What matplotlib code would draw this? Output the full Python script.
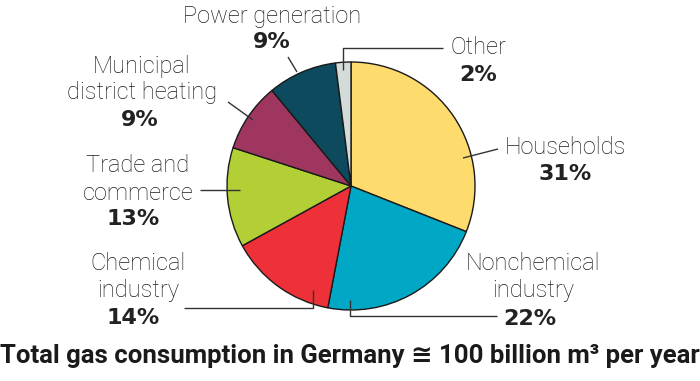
import matplotlib
matplotlib.use("Agg")
import matplotlib.pyplot as plt

categories = ["Households", "Nonchemical industry", "Chemical industry",
              "Trade and commerce", "Municipal district heating",
              "Power generation", "Other"]
values = [31, 22, 14, 13, 9, 9, 2]
colors = ["#FDDB6D", "#00A8C6", "#EE3139", "#B2CF36", "#9F3660", "#0D4A5D", "#D4DCDA"]

W, H = 700, 381
fig = plt.figure(figsize=(W / 100, H / 100), dpi=100)
ax = fig.add_axes([0, 0, 1, 1])

def Y(py):
    return H - py

ax.pie(values, colors=colors, startangle=90, counterclock=False,
       center=(351, Y(186)), radius=124,
       wedgeprops=dict(edgecolor="#1a1a1a", linewidth=1.0))
ax.set_xlim(0, W)
ax.set_ylim(0, H)
ax.set_aspect("equal")
ax.axis("off")

fam = ["Roboto", "DejaVu Sans"]
lab = dict(family=fam, fontsize=17, fontweight="light", color="#1e1e1e",
           ha="center", va="center")
pct = dict(family=["DejaVu Sans"], fontsize=16, fontweight="bold", color="#222222",
           ha="center", va="center")

# (label lines, label center x, first line y, percent x, percent y)
layout = [
    (["Households"], 565, 148, 565, 174),
    (["Nonchemical", "industry"], 533, 264, 530, 319),
    (["Chemical", "industry"], 138, 264, 133, 318),
    (["Trade and", "commerce"], 138, 166, 133, 219),
    (["Municipal", "district heating"], 142, 66, 140, 120),
    (["Power generation"], 272, 16, 272, 42),
    (["Other"], 478, 48, 478, 75),
]
for (lines, lx, ly, px, py), v in zip(layout, values):
    for i, t in enumerate(lines):
        ax.text(lx, Y(ly + i * 27), t, **lab)
    ax.text(px, Y(py), f"{v}%", **pct)

leaders = [
    [(463, 158), (498, 149)],
    [(350, 300), (350, 316), (497, 316)],
    [(313, 290), (313, 308), (184, 308)],
    [(240, 190), (200, 190)],
    [(253, 120), (228, 102)],
    [(297, 72), (288, 57)],
    [(343, 70), (343, 48), (443, 48)],
]
for pts in leaders:
    ax.plot([p[0] for p in pts], [Y(p[1]) for p in pts], color="#333333", lw=1.0,
            solid_capstyle="butt")

ax.text(350, Y(356), "Total gas consumption in Germany \u2245 100 billion m\u00b3 per year",
        family=fam, fontsize=18.5, fontweight="bold", color="#1a1a1a",
        ha="center", va="center")

fig.savefig("out.png", dpi=100)
